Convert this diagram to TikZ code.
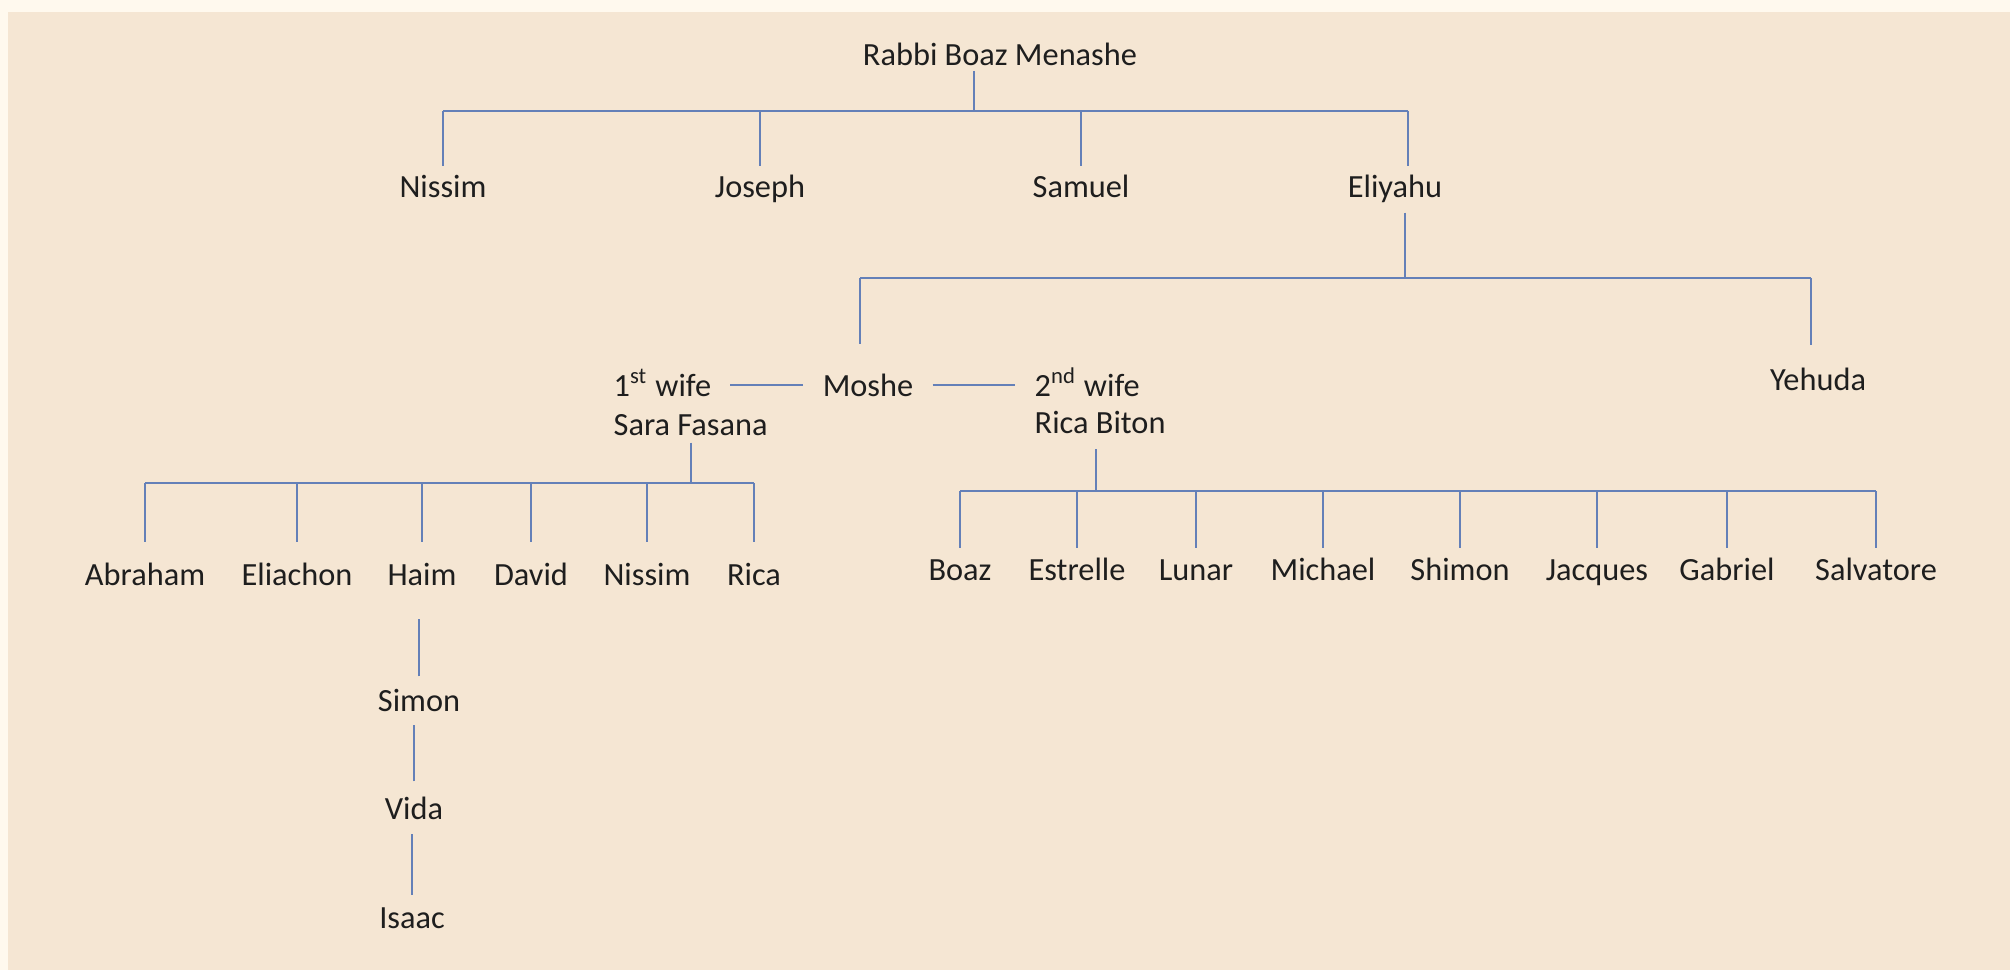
\documentclass[tikz,border=0pt]{standalone}
\usepackage{fontspec}
\setmainfont{Carlito}
\definecolor{pagecream}{RGB}{255,249,238}
\definecolor{panelbeige}{RGB}{245,230,211}
\definecolor{linkblue}{RGB}{100,128,184}
\definecolor{namegray}{RGB}{30,30,30}
\tikzset{
  person/.style={inner sep=0pt, text height=7.4pt, text depth=0.8pt, text=namegray,
    font=\fontsize{9.2}{11}\selectfont},
  link/.style={draw=linkblue, line width=0.55pt}
}
\begin{document}
\begin{tikzpicture}[x=0.01cm,y=-0.01cm]
\fill[pagecream] (0,0) rectangle (2010,970);
\fill[panelbeige] (8,12) rectangle (2010,970);
% Rabbi and his sons
\node[person] (rabbi) at (1000,54) {Rabbi Boaz Menashe};
\node[person] (nissim) at (443,186) {Nissim};
\node[person] (joseph) at (760,186) {Joseph};
\node[person] (samuel) at (1081,186) {Samuel};
\node[person] (eliyahu) at (1395,186) {Eliyahu};
\coordinate (topL) at (443,111);
\coordinate (topM) at (974,111);
\coordinate (topR) at (1408,111);
\draw[link] (topL) -- (topR);
\draw[link,shorten <=0.5pt] (topM |- rabbi.south) -- (topM);
\draw[link,shorten >=1.3pt] (topL -| nissim) -- (nissim.north);
\draw[link,shorten >=1.3pt] (topL -| joseph) -- (joseph.north);
\draw[link,shorten >=1.3pt] (topL -| samuel) -- (samuel.north);
\draw[link,shorten >=1.3pt] (topR) -- (topR |- eliyahu.north);
% Eliyahu's sons
\node[person] (moshe) at (868,385) {Moshe};
\node[person] (yehuda) at (1818,379) {Yehuda};
\coordinate (midL) at (860,278);
\coordinate (midC) at (1405,278);
\coordinate (midR) at (1811,278);
\draw[link] (midL) -- (midR);
\draw[link,shorten <=3.3pt] (midC |- eliyahu.south) -- (midC);
\draw[link,shorten >=7.5pt] (midL) -- (midL |- moshe.north);
\draw[link,shorten >=5.3pt] (midR) -- (midR |- yehuda.north);
% wives
\node[person,anchor=west] (wifeA) at (613,385) {1\textsuperscript{st} wife};
\node[person,anchor=west] (sara) at (613,424) {Sara Fasana};
\node[person,anchor=west] (wifeB) at (1034,385) {2\textsuperscript{nd} wife};
\node[person,anchor=west] (ricabiton) at (1034,422) {Rica Biton};
\draw[link,shorten <=5.3pt,shorten >=5.3pt] (wifeA.east) -- (moshe.west);
\draw[link,shorten <=5.3pt,shorten >=5.3pt] (moshe.east) -- (wifeB.west);
% children of Sara Fasana
\node[person] (abraham) at (145,574) {Abraham};
\node[person] (eliachon) at (297,574) {Eliachon};
\node[person] (haim) at (422,574) {Haim};
\node[person] (david) at (531,574) {David};
\node[person] (nissimB) at (647,574) {Nissim};
\node[person] (rica) at (754,574) {Rica};
\coordinate (famA) at (688,483);
\draw[link] (famA -| abraham) -- (famA -| rica);
\draw[link,shorten <=1pt] (sara.south) -- (sara.south |- famA);
\draw[link,shorten >=4.7pt] (famA -| abraham) -- (abraham.north);
\draw[link,shorten >=4.7pt] (famA -| eliachon) -- (eliachon.north);
\draw[link,shorten >=4.7pt] (famA -| haim) -- (haim.north);
\draw[link,shorten >=4.7pt] (famA -| david) -- (david.north);
\draw[link,shorten >=4.7pt] (famA -| nissimB) -- (nissimB.north);
\draw[link,shorten >=4.7pt] (famA -| rica) -- (rica.north);
% Haim's line
\node[person] (simon) at (419,700) {Simon};
\node[person] (vida) at (414,808) {Vida};
\node[person] (isaac) at (412,917) {Isaac};
\draw[link,shorten <=2.4pt,shorten >=8.4pt] (simon.north) -- (simon.north |- haim.south);
\draw[link,shorten <=3.3pt,shorten >=2.7pt] (vida.north) -- (vida.north |- simon.south);
\draw[link,shorten <=2.1pt,shorten >=3pt] (isaac.north) -- (isaac.north |- vida.south);
% children of Rica Biton
\node[person] (boaz) at (960,569) {Boaz};
\node[person] (estrelle) at (1077,569) {Estrelle};
\node[person] (lunar) at (1196,569) {Lunar};
\node[person] (michael) at (1323,569) {Michael};
\node[person] (shimon) at (1460,569) {Shimon};
\node[person] (jacques) at (1597,569) {Jacques};
\node[person] (gabriel) at (1727,569) {Gabriel};
\node[person] (salvatore) at (1876,569) {Salvatore};
\coordinate (famB) at (1096,491);
\draw[link] (famB -| boaz) -- (famB -| salvatore);
\draw[link,shorten <=3.5pt] (famB |- ricabiton.south) -- (famB);
\draw[link,shorten >=1.6pt] (famB -| boaz) -- (boaz.north);
\draw[link,shorten >=1.6pt] (famB -| estrelle) -- (estrelle.north);
\draw[link,shorten >=1.6pt] (famB -| lunar) -- (lunar.north);
\draw[link,shorten >=1.6pt] (famB -| michael) -- (michael.north);
\draw[link,shorten >=1.6pt] (famB -| shimon) -- (shimon.north);
\draw[link,shorten >=1.6pt] (famB -| jacques) -- (jacques.north);
\draw[link,shorten >=1.6pt] (famB -| gabriel) -- (gabriel.north);
\draw[link,shorten >=1.6pt] (famB -| salvatore) -- (salvatore.north);
\end{tikzpicture}
\end{document}
